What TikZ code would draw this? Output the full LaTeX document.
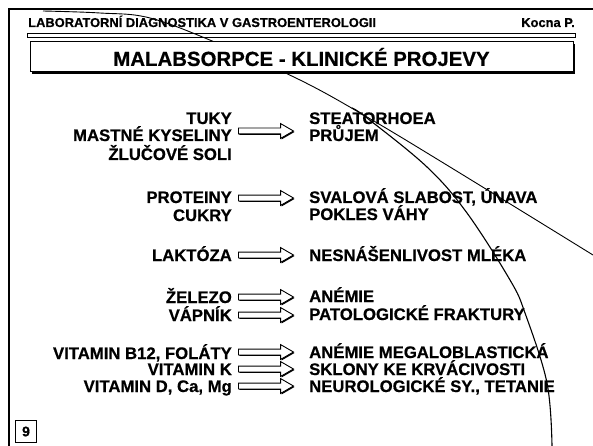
\documentclass[tikz,border=0pt]{standalone}
\usepackage{fontspec}
\setmainfont{Liberation Sans}[BoldFont={Liberation Sans Bold}, BoldFeatures={FakeBold=0.6}]
\usetikzlibrary{shapes.arrows,shadows}
\begin{document}
\begin{tikzpicture}[x=1pt,y=-1pt,inner sep=0pt,
  lt/.style={font=\bfseries\fontsize{16.7}{18}\selectfont, anchor=base east},
  rt/.style={font=\bfseries\fontsize{16.7}{18}\selectfont, anchor=base west},
  barrow/.style={single arrow, draw, fill=white, line width=0.9pt, minimum height=55,
    text height=5pt, text depth=0pt, inner sep=0pt, single arrow head extend=4.5pt, single arrow tip angle=60,
    anchor=west, drop shadow={shadow xshift=1pt,shadow yshift=-1pt,opacity=1,fill=black}},
  frameline/.style={line width=2pt},
  curve/.style={line width=0.9pt}]
\useasboundingbox[fill=white] (0,0) rectangle (593,446);
% frame
\draw[frameline] (593,9) -- (9,9) -- (9,446);
% header
\node[anchor=base west, font=\bfseries\fontsize{12.9}{14}\selectfont] (hdr) at (28,27) {LABORATORNÍ DIAGNOSTIKA V GASTROENTEROLOGII};
\node[anchor=base east, font=\bfseries\fontsize{12.9}{14}\selectfont] (auth) at (575,27) {Kocna P.};
\node[draw, line width=0.8pt, minimum width=548, minimum height=4] (bar) at (301,35) {};
% curves
\draw[curve] plot[smooth, tension=0.6] coordinates {(43,11) (100,13) (150,18) (217,43) (300,80) (367,117) (450,167) (593,255)};
\draw[curve, line width=1.1pt] plot[smooth, tension=0.6] coordinates {(352,108) (367,118) (427,167) (467,213) (510,280) (525,313) (547,383) (552,446)};
% title
\node[draw, fill=white, line width=1pt, minimum width=543, minimum height=30,
  drop shadow={shadow xshift=2pt,shadow yshift=-2pt,opacity=1,fill=black},
  font=\bfseries\fontsize{20.4}{22}\selectfont] (title) at (301.5,57) {MALABSORPCE - KLINICKÉ PROJEVY};
% left column
\node[lt] (l1) at (232,124) {TUKY};
\node[lt] (l2) at (232,141) {MASTNÉ KYSELINY};
\node[lt] (l3) at (232,160) {ŽLUČOVÉ SOLI};
\node[lt] (l4) at (232,203) {PROTEINY};
\node[lt] (l5) at (232,221) {CUKRY};
\node[lt] (l6) at (232,261) {LAKTÓZA};
\node[lt] (l7) at (232,303) {ŽELEZO};
\node[lt] (l8) at (232,321) {VÁPNÍK};
\node[lt] (l9) at (232,359) {VITAMIN B12, FOLÁTY};
\node[lt] (l10) at (232,375) {VITAMIN K};
\node[lt] (l11) at (232,392) {VITAMIN D, Ca, Mg};
% right column
\node[rt] (r1) at (309,124) {STEATORHOEA};
\node[rt] (r2) at (309,141) {PRŮJEM};
\node[rt] (r3) at (309,203) {SVALOVÁ SLABOST, ÚNAVA};
\node[rt] (r4) at (309,220) {POKLES VÁHY};
\node[rt] (r5) at (309,261) {NESNÁŠENLIVOST MLÉKA};
\node[rt] (r6) at (309,302) {ANÉMIE};
\node[rt] (r7) at (309,320) {PATOLOGICKÉ FRAKTURY};
\node[rt] (r8) at (309,358) {ANÉMIE MEGALOBLASTICKÁ};
\node[rt] (r9) at (309,375) {SKLONY KE KRVÁCIVOSTI};
\node[rt] (r10) at (309,392) {NEUROLOGICKÉ SY., TETANIE};
% arrows
\node[barrow] (a1) at (238,131) {};
\node[barrow] (a2) at (238,198) {};
\node[barrow] (a3) at (238,255) {};
\node[barrow] (a4) at (238,297) {};
\node[barrow] (a5) at (238,315) {};
\node[barrow] (a6) at (238,352) {};
\node[barrow] (a7) at (238,369) {};
\node[barrow] (a8) at (238,386) {};
% page number
\node[draw, line width=1pt, minimum width=21, minimum height=22, font=\bfseries\fontsize{14}{16}\selectfont] (num) at (26,431.5) {9};
\end{tikzpicture}
\end{document}
